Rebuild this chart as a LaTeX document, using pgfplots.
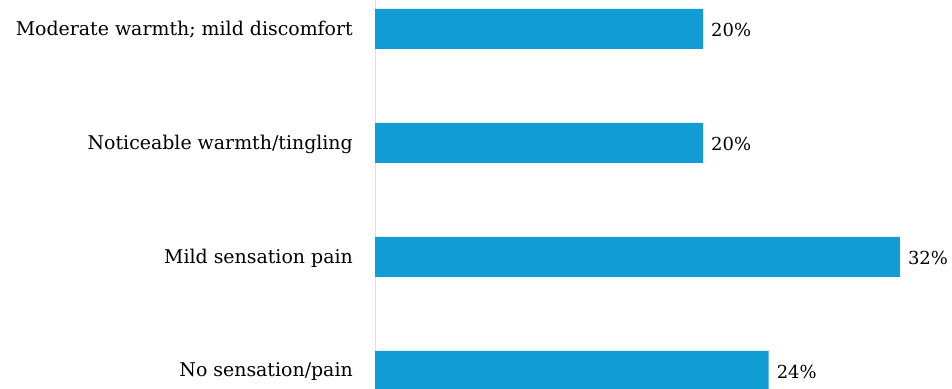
\documentclass[border=0pt]{standalone}
\usepackage{fontspec}
\setmainfont{DejaVu Serif}
\usepackage{pgfplots}
\pgfplotsset{compat=1.18}
\definecolor{barblue}{RGB}{18,156,212}
\begin{document}
\begin{tikzpicture}
\begin{axis}[
  at={(375bp,0bp)}, anchor=south west,
  scale only axis, width=577bp, height=389bp,
  xbar, bar width=40bp,
  xmin=0, xmax=35.18,
  ymin=-0.158, ymax=3.254,
  axis x line=none,
  axis y line*=left,
  y axis line style={draw=black!12, line width=1bp},
  ytick={0,1,2,3},
  yticklabels={No sensation/pain, Mild sensation pain, Noticeable warmth/tingling, Moderate warmth; mild discomfort},
  ytick style={draw=none},
  major tick length=0pt,
  yticklabel style={font=\fontsize{19}{23}\selectfont, inner sep=0pt, xshift=-22bp, yshift=-1bp},
  /pgf/number format/assume math mode=true,
  point meta=x,
  nodes near coords={\pgfmathprintnumber{\pgfplotspointmeta}\%},
  nodes near coords style={font=\fontsize{18}{22}\selectfont, anchor=west, inner sep=0pt, xshift=8bp, yshift=-1bp},
  clip=false,
]
\addplot[fill=barblue, draw=none] coordinates {(24,0) (32,1) (20,2) (20,3)};
\end{axis}
\pgfresetboundingbox
\path (0,0) rectangle (952bp,389bp);
\end{tikzpicture}
\end{document}
